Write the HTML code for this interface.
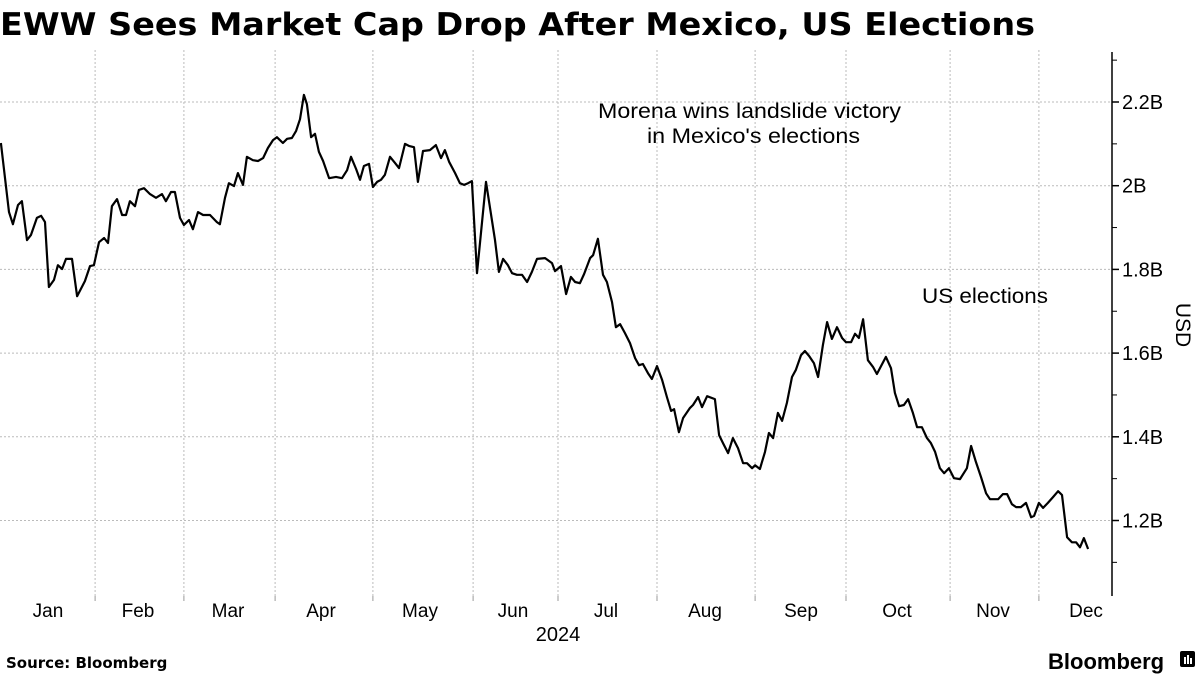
<!DOCTYPE html>
<html><head><meta charset="utf-8"><style>
html,body{margin:0;padding:0;background:#fff;}
svg{display:block;font-family:"Liberation Sans",sans-serif;}
</style></head><body>
<svg id="chart" width="1200" height="675" viewBox="0 0 1200 675">
<text x="0" y="35" font-family="DejaVu Sans, Liberation Sans, sans-serif" font-weight="bold" font-size="31" textLength="1035" lengthAdjust="spacingAndGlyphs">EWW Sees Market Cap Drop After Mexico, US Elections</text>
<g id="grid"></g>
<g id="axis"></g>
<g id="xaxis"></g>
<path id="line" fill="none" stroke="#000" stroke-width="2.2" stroke-linejoin="round"></path>
<text x="598" y="118" font-size="21" textLength="303" lengthAdjust="spacingAndGlyphs">Morena wins landslide victory</text>
<text x="647" y="143" font-size="21" textLength="213" lengthAdjust="spacingAndGlyphs">in Mexico's elections</text>
<text x="922" y="303" font-size="21" textLength="126" lengthAdjust="spacingAndGlyphs">US elections</text>
<text x="1176" y="325" font-size="21" text-anchor="middle" transform="rotate(90 1176 325)">USD</text>
<text x="558" y="641" font-size="20" text-anchor="middle">2024</text>
<text x="6" y="668" font-family="DejaVu Sans, Liberation Sans, sans-serif" font-weight="bold" font-size="15">Source: Bloomberg</text>
<text x="1048" y="669" font-weight="bold" font-size="22">Bloomberg</text>
<g><rect x="1180" y="651" width="15" height="16" rx="2" fill="#000"/><rect x="1184" y="657" width="2" height="7" fill="#fff"/><rect x="1187" y="655" width="2" height="9" fill="#fff"/><rect x="1190" y="658" width="2" height="6" fill="#fff"/></g>
</svg>
<script>
const days=[0.3,3,4.3,6,7.3,9,10.3,12.3,13.7,15,16.3,18,19.3,20.7,22,24,25.7,28.3,30,31.3,33,34.7,36,37.3,39,40.7,42,43.3,45,46.3,48,50,52,54,55.3,57,58.3,60,61.3,63,64.3,66,67.7,70,72.3,73.3,75,76.3,78,79.3,81,82.3,84.3,86,87.7,89.3,91,92.3,94.3,95.7,97.3,98.7,100,101.3,102.3,103.7,105,106.3,107.7,109.7,112,114,115.7,117,118.7,120,121.3,123,124.3,125.7,127,128.3,130,131.7,133,135,136.3,138,139.3,141,143.3,145.3,147,148.3,149.7,151.7,153.3,154.7,156,157.3,159,162,165,166.3,167.7,169.3,170.7,172.3,174,175.7,177.3,179,181.7,184,185,187,188.7,190.3,191.7,193.3,194.7,196.7,197.7,199.3,201,202.3,204,205.3,206.7,208.3,210,211.7,213,214.3,216,217.3,219,220.7,222.3,223.7,224.7,226.3,227.7,230,231,232.7,234,235.7,238.3,239.7,241,242.7,244.3,246,247.7,249,250.7,251.7,253.3,255,256.3,257.7,259.3,260.7,262.3,264,265.3,267,268.3,269.7,271.3,272.7,274.3,275.7,277.3,279,280.7,282,283.7,285,286.3,287.7,289.3,291,292.3,295.3,297,298.3,299.7,301.3,302.7,304.3,305.7,307.3,309,310.3,311.7,313.3,314.7,316.3,318,320,322.3,323.7,325.3,327,328.7,330,332.7,334.3,335.7,337.3,338.7,340.3,342,343.7,344.7,346.3,347.7,349.3,351,352.7,354,355.7,357.3,358.7,360,361.3,362.7];
const values=[2.102,1.937,1.908,1.954,1.963,1.870,1.882,1.923,1.928,1.913,1.758,1.775,1.810,1.801,1.825,1.825,1.736,1.772,1.808,1.810,1.865,1.875,1.863,1.951,1.968,1.930,1.930,1.963,1.951,1.990,1.994,1.980,1.971,1.980,1.963,1.985,1.985,1.923,1.906,1.918,1.896,1.937,1.930,1.930,1.913,1.908,1.971,2.006,1.999,2.030,2.002,2.069,2.061,2.059,2.066,2.090,2.109,2.116,2.102,2.112,2.114,2.131,2.159,2.217,2.195,2.116,2.124,2.081,2.059,2.018,2.021,2.018,2.037,2.069,2.040,2.014,2.047,2.052,1.997,2.009,2.014,2.026,2.069,2.054,2.042,2.100,2.095,2.092,2.009,2.083,2.085,2.097,2.066,2.085,2.057,2.030,2.006,2.002,2.006,2.011,1.791,2.009,1.870,1.794,1.825,1.810,1.791,1.787,1.787,1.770,1.794,1.825,1.827,1.815,1.796,1.808,1.741,1.782,1.770,1.767,1.789,1.827,1.834,1.873,1.787,1.770,1.722,1.662,1.669,1.648,1.624,1.588,1.571,1.574,1.552,1.538,1.569,1.536,1.495,1.462,1.466,1.411,1.445,1.469,1.476,1.495,1.471,1.497,1.490,1.404,1.385,1.361,1.397,1.373,1.337,1.337,1.325,1.332,1.323,1.364,1.409,1.397,1.457,1.438,1.481,1.543,1.560,1.595,1.605,1.593,1.576,1.543,1.619,1.674,1.634,1.662,1.636,1.626,1.626,1.646,1.636,1.681,1.583,1.567,1.550,1.591,1.564,1.505,1.473,1.476,1.490,1.457,1.423,1.423,1.397,1.385,1.364,1.325,1.313,1.325,1.301,1.299,1.325,1.378,1.340,1.304,1.265,1.251,1.251,1.263,1.263,1.239,1.232,1.232,1.242,1.208,1.211,1.242,1.230,1.242,1.256,1.270,1.261,1.160,1.148,1.148,1.136,1.158,1.132];
const yTicks=[1.2,1.4,1.6,1.8,2.0,2.2];
const yTickLabels=["1.2B","1.4B","1.6B","1.8B","2B","2.2B"];
const yMinor=[1.1,1.3,1.5,1.7,1.9,2.1,2.3];
const months=["Jan","Feb","Mar","Apr","May","Jun","Jul","Aug","Sep","Oct","Nov","Dec"];
const monthMid=[16,46,76,107,140,171,202,235,267,299,331,362];
const gridDays=[31.7,61.3,91.7,124.3,157.7,186,219,251.7,282,316.7,346.3];

const NS="http://www.w3.org/2000/svg";
const xS=d=>d*3;
const yS=v=>102+(2.2-v)*418.5;
const AX=1112;
function mk(tag,attrs,parent,txt){const e=document.createElementNS(NS,tag);for(const k in attrs)e.setAttribute(k,attrs[k]);if(txt!==undefined)e.textContent=txt;parent.appendChild(e);return e;}
const grid=document.getElementById('grid'),axis=document.getElementById('axis'),xaxis=document.getElementById('xaxis');
yTicks.forEach((v,i)=>{
  const g=mk('line',{x1:0,x2:AX,y1:yS(v),y2:yS(v),stroke:'#bbb','stroke-width':1,'stroke-dasharray':'2,2'},grid);
  
  
  const t=mk('line',{x1:AX,x2:AX+7,y1:yS(v),y2:yS(v),stroke:'#000','stroke-width':1.5},axis);
  
  
  const l=mk('text',{x:AX+10,y:yS(v)+7,'font-size':20},axis,yTickLabels[i]);
  
  
});
yMinor.forEach(v=>{
  const t=mk('line',{x1:AX,x2:AX+5,y1:yS(v),y2:yS(v),stroke:'#000','stroke-width':1},axis);
  
  
});
const al=mk('line',{x1:AX,x2:AX,y1:52,y2:596,stroke:'#000','stroke-width':1.5},axis);


gridDays.forEach(d=>{
  const g=mk('line',{x1:xS(d),x2:xS(d),y1:50,y2:596,stroke:'#bbb','stroke-width':1,'stroke-dasharray':'2,2'},grid);
  
  
  const t=mk('line',{x1:xS(d),x2:xS(d),y1:596,y2:601,stroke:'#999','stroke-width':1},xaxis);
  
  
});
months.forEach((m,i)=>{
  const t=mk('text',{x:xS(monthMid[i]),y:617,'font-size':19,'text-anchor':'middle'},xaxis,m);
  
  
});
document.getElementById('line').setAttribute('d',days.map((d,i)=>(i?'L':'M')+xS(d).toFixed(1)+','+yS(values[i]).toFixed(1)).join(''));
</script>
</body></html>
